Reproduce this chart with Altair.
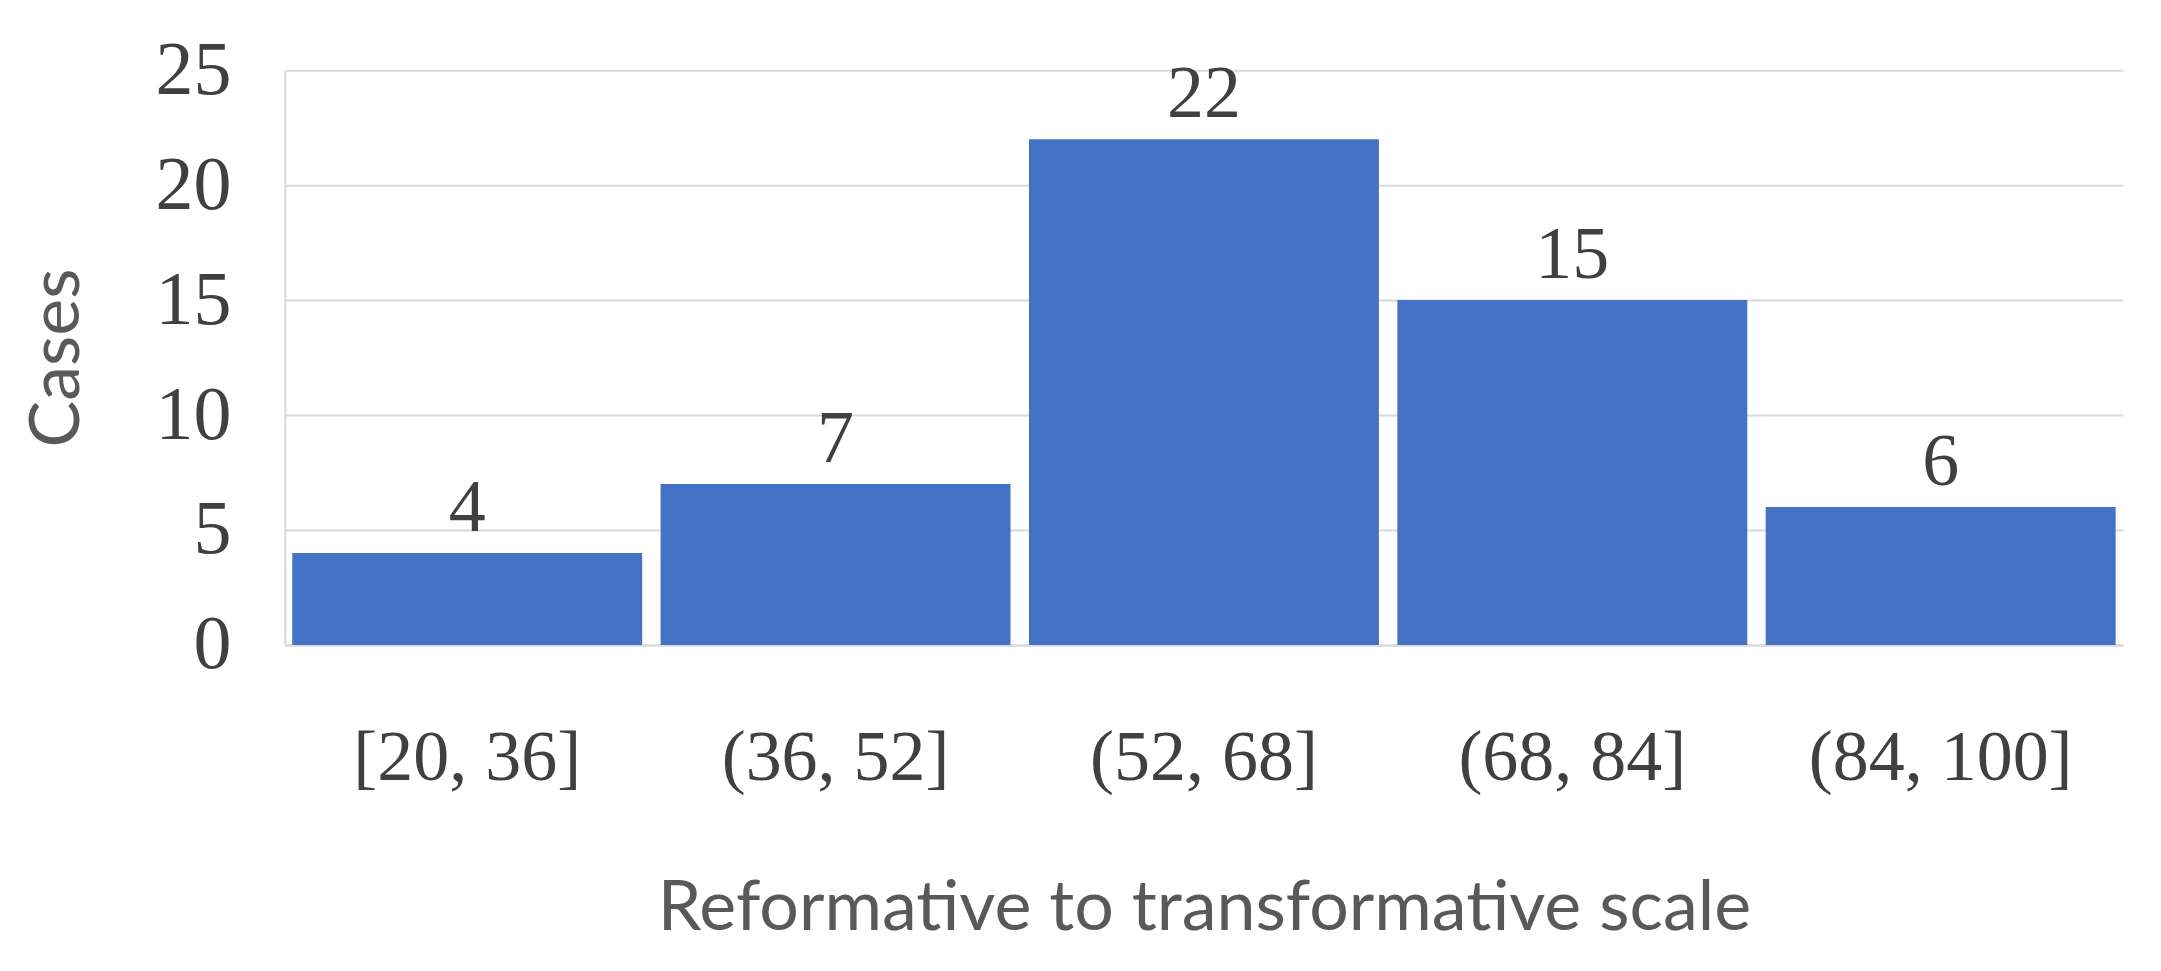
import altair as alt
import pandas as pd

categories = ["[20, 36]", "(36, 52]", "(52, 68]", "(68, 84]", "(84, 100]"]
cases = [4, 7, 22, 15, 6]

df = pd.DataFrame({"bin": categories, "cases": cases})

SERIF = "Liberation Serif"
SANS = "Lato"

base = alt.Chart(df).encode(
    x=alt.X(
        "bin:N",
        sort=categories,
        scale=alt.Scale(paddingInner=0.05, paddingOuter=0.02),
        axis=alt.Axis(
            title="Reformative to transformative scale",
            labelAngle=0,
            labelFont=SERIF,
            labelFontSize=72,
            labelColor="#404040",
            labelPadding=78,
            labelBaseline="top",
            labelLimit=0,
            ticks=False,
            domain=True,
            domainColor="#D9D9D9",
            domainWidth=2,
            titleFont=SANS,
            titleFontSize=70,
            titleFontWeight="normal",
            titleColor="#595959",
            titleY=264,
            titleBaseline="middle",
        ),
    ),
    y=alt.Y(
        "cases:Q",
        scale=alt.Scale(domain=[0, 25]),
        axis=alt.Axis(
            title="Cases",
            values=[0, 5, 10, 15, 20, 25],
            labelFont=SERIF,
            labelFontSize=76,
            labelColor="#404040",
            labelPadding=54,
            ticks=False,
            domain=True,
            domainColor="#D9D9D9",
            domainWidth=2,
            grid=True,
            gridColor="#D9D9D9",
            gridWidth=2,
            titleFont=SANS,
            titleFontSize=70,
            titleFontWeight="normal",
            titleColor="#595959",
            titleX=-227,
            titleAngle=-90,
            titleBaseline="middle",
            titleAlign="center",
        ),
    ),
)

bars = base.mark_bar(color="#4472C4")
labels = base.mark_text(
    font=SERIF, fontSize=74, color="#404040", baseline="alphabetic", dy=-22
).encode(text="cases:Q")

chart = (
    (bars + labels)
    .properties(
        width=1839,
        height=575,
        autosize=alt.AutoSizeParams(type="none"),
        padding={"left": 277, "top": 62, "right": 30, "bottom": 300},
        background="white",
    )
    .configure_view(stroke=None)
)

chart.save("out.html", embed_options={"renderer": "svg", "actions": False})
